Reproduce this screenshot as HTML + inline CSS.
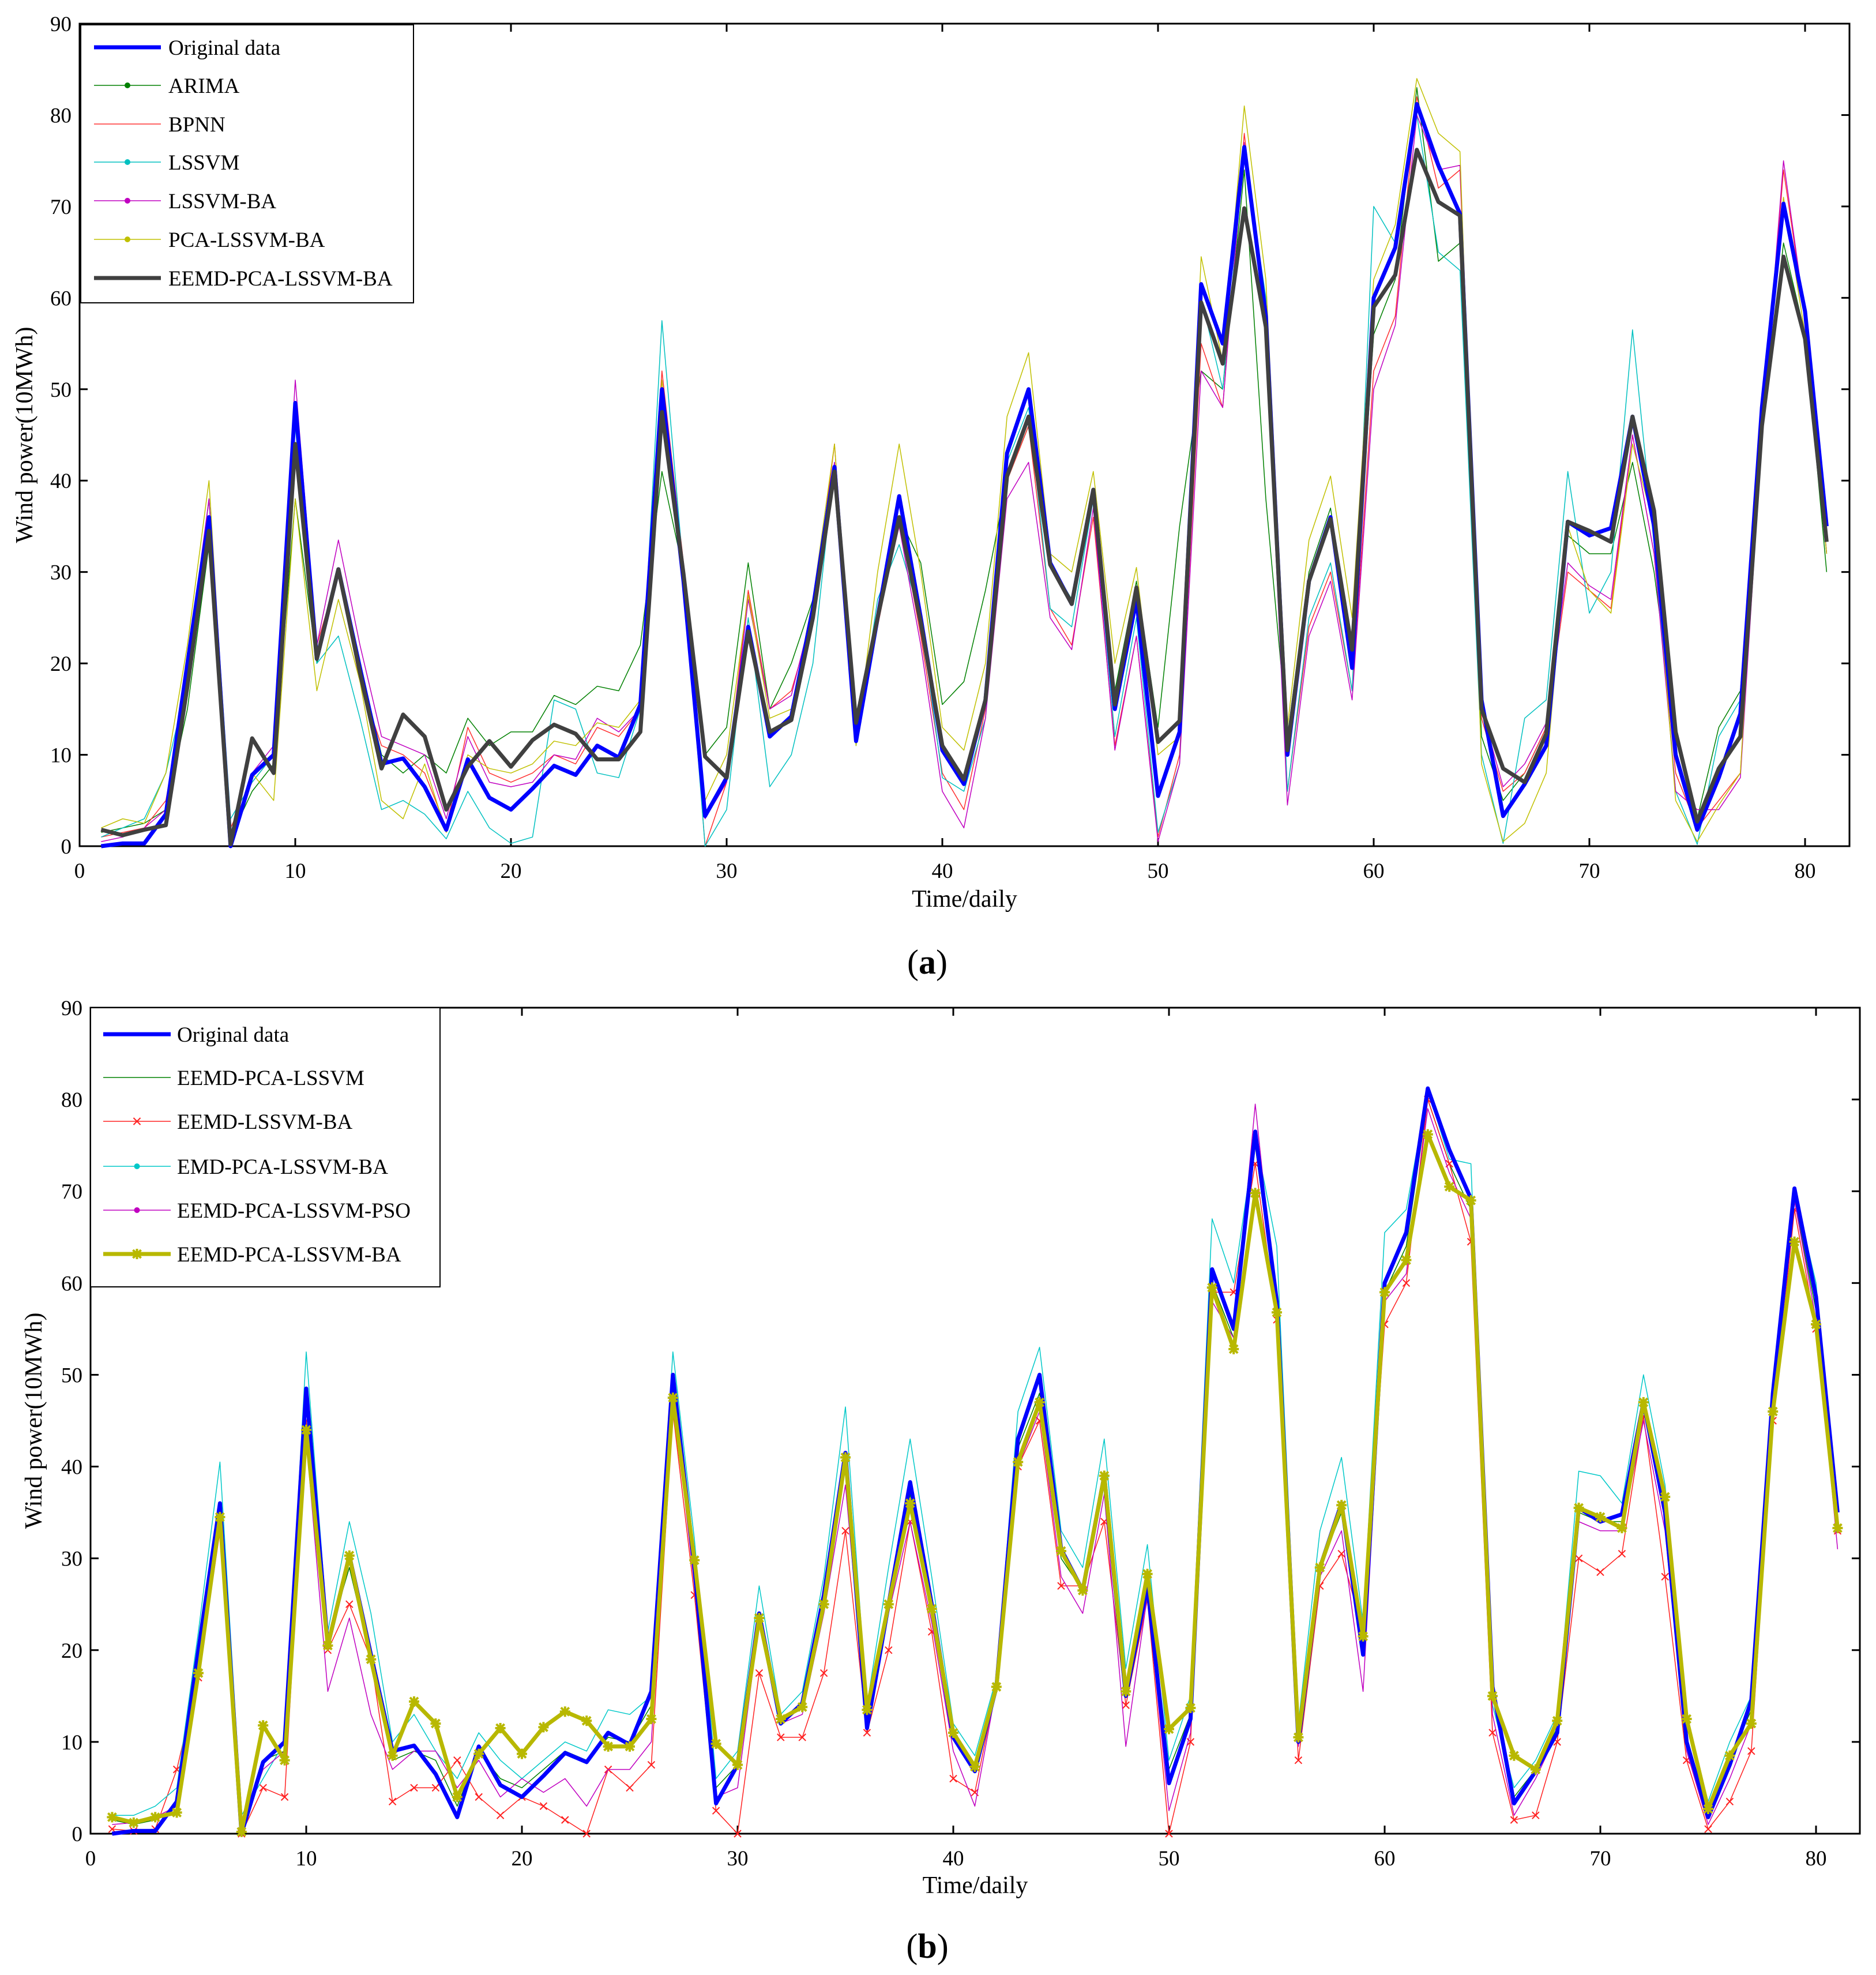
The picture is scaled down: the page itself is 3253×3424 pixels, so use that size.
<!DOCTYPE html>
<html><head><meta charset="utf-8">
<style>
html,body{margin:0;padding:0;background:#fff;}
svg{display:block;font-family:"Liberation Serif",serif;}
</style></head>
<body>
<svg id="chart" width="3253" height="3424" viewBox="0 0 3253 3424" xmlns="http://www.w3.org/2000/svg"></svg>
<script>
const days = Array.from({length:81},(_,i)=>i+1);
const xTicks = [0,10,20,30,40,50,60,70,80];
const yTicks = [0,10,20,30,40,50,60,70,80,90];

const original = [0,0.3,0.3,3.5,20,36,0,7.8,10,48.5,20.5,30.3,19.5,9,9.6,6.5,1.8,9.5,5.3,4,6.3,8.8,7.8,11,9.7,15.5,50,29,3.3,7.5,24,12,14.2,26,41.5,11.5,25,38.3,25,10.5,6.8,16,43,50,31,26.5,39,15,27,5.5,12.5,61.5,55,76.5,58,10,29,36,19.5,60,65.5,81.2,74.5,69.2,16,3.3,6.8,11,35.5,34,34.8,47,35,10,1.8,7.5,14.5,48,70.3,58.5,35];
const eemdPcaLssvmBa = [1.8,1.2,1.8,2.3,17.5,34.5,0.2,11.8,8,44,20.5,30.3,19,8.5,14.4,12,4,8.7,11.5,8.7,11.6,13.3,12.3,9.5,9.5,12.5,47.5,29.8,9.8,7.5,23.5,12.5,13.8,25,41,13.5,25,36,24.5,11,7.3,16,40.5,47,30.8,26.5,39,15.5,28.3,11.4,13.7,59.5,52.8,69.8,56.8,10.5,29,35.8,21.5,59,62.5,76.2,70.5,69,15,8.5,7,12.3,35.5,34.5,33.3,47,36.7,12.5,2.7,8.5,12,46,64.5,55.5,33.3];
const arima = [1.5,2,2.5,4,15,33,1,6,9,38,20,30,20,10,8,10,8,14,11,12.5,12.5,16.5,15.5,17.5,17,22,41,30,10,13,31,15,20,27,40,13,25,36,31,15.5,18,28,40,46,31,27,38,17,29,13,35,52,50,74,38,12,30,37,21,56,62,83,64,66,12,5,8,13,34,32,32,42,30,12,3,13,17,45,66,56,30];
const bpnn = [1,1.5,2,5,18,38,2,7,10,48,22,30,18,11,10,8,2,13,8,7,8,10,9,13,12,15,52,31,0,7,28,15,17,25,44,12,24,36,23,8,4,15,40,46,26,22,36,11,23,1,10,55,48,78,57,6,24,30,17,52,58,82,72,74,14,6,8,13,30,28,26,45,32,8,2,5,8,45,74,58,32];
const lssvm = [1,2,3,8,18,38,3,7,10,46,20,23,14,4,5,3.5,0.8,6,2,0.3,1,16,15,8,7.5,15,57.5,30,0,4,25,6.5,10,20,42,11,27,33,25,7.5,6,14,42,48,26,24,38,12,25,1.5,9,60,50,76,60,6,25,31,17,70,66,80,65,63,10,0.3,14,16,41,25.5,30,56.5,33,6,0.2,12,16,46,70,58,32];
const lssvmBa = [0.5,1,2,4,20,38,1,8,11,51,22,33.5,22,12,11,10,3,12,7,6.5,7,10,9.5,14,12.5,15,50,28,3,7,27,15,16.5,26,42,12,25,35,22,6,2,14,38,42,25,21.5,37,10.5,23,0.5,9,52,48,77,56,4.5,23,29,16,50,57,80,74,74.5,15,6.5,9,13.5,31,28.5,27,45,32,6,4,4,7.5,45,75,58,32];
const pcaLssvmBa = [2,3,2.5,8,22,40,1,8,5,38,17,27,18,5,3,9,1.5,10,8.5,8,9,11.5,11,13.5,13,16,51,30,5,10,27.5,14,15,27,44,11,30,44,30,13,10.5,20,47,54,32,30,41,20,30.5,10,12,64.5,53,81,62,13,33.5,40.5,25,62,68,84,78,76,9,0.5,2.5,8,35,28,25.5,44,35,5,0.5,4.5,8,48,71,56,32];
const eemdPcaLssvm = [1.5,1,1.5,3,18,35,0.5,8,9,45,21,29,19,8,9,8,3,9,6,5,7,9,8,10.5,10,14,49,29,5,7.5,23,12,14,25,40,12,25,37,24,10.5,7,16,42,48,30,26.5,38,15,27,7,13,60,54,75,57,10.5,29,35,20,59,64,80,73,68,15,4,7,11.5,35,34,34,46.5,35,10,2,8,13.5,47,69,57,34];
const eemdLssvmBa = [0.5,0.3,0.5,7,17,33,0,5,4,45,20,25,19,3.5,5,5,8,4,2,4,3,1.5,0,7,5,7.5,46,26,2.5,0,17.5,10.5,10.5,17.5,33,11,20,34,22,6,4.5,16,40,45,27,27,34,14,25.5,0,10,59,59,73,56,8,27,30.5,22,55.5,60,80,73,64.5,11,1.5,2,10,30,28.5,30.5,45.5,28,8,0.5,3.5,9,45,68,55,33];
const emdPcaLssvmBa = [2,2,3,5,22,40.5,2,6,10,52.5,22,34,24,10,13,9,6,11,8,6,8,10,9,13.5,13,15,52.5,32,6,9,27,13,15.5,28,46.5,14,29,43,28,12,8.5,17,46,53,33,29,43,18,31.5,8,15,67,60,76,64,12,33,41,23,65.5,68,81,73.5,73,14,5,8,13,39.5,39,36,50,38,12,3.5,10,15,48,70,60,34];
const eemdPcaLssvmPso = [1,1.2,1.8,3,18,34,0.5,7,9,43,15.5,23.5,13,7,9,9,5,8,4,6,4.5,6,3,7,7,10,48,27,4,5,23,12,13,24,38,12,24,34,23,9,3,16,40,46,28,24,37,9.5,26,2.5,11,58,54,79.5,57,9.5,28,33,15.5,58,61,79,72,67,13,2,6,11,34,33,33,45,33,9,1,6,12,46,69,56,31];

const NS="http://www.w3.org/2000/svg";
const svg=document.getElementById('chart');
function mk(tag,attrs,parent){const e=document.createElementNS(NS,tag);for(const k in attrs)e.setAttribute(k,attrs[k]);(parent||svg).appendChild(e);return e;}
function markerPath(m,cx,cy){
  if(m==='x') return `M${cx-6},${cy-6}L${cx+6},${cy+6}M${cx-6},${cy+6}L${cx+6},${cy-6}`;
  return `M${cx-9},${cy}L${cx+9},${cy}M${cx},${cy-9}L${cx},${cy+9}M${cx-7},${cy-7}L${cx+7},${cy+7}M${cx-7},${cy+7}L${cx+7},${cy-7}`;
}

function panel(P){
  const g=mk('g',{});
  
  
  const sx=v=>P.x0+(P.x80-P.x0)*v/80;
  const sy=v=>P.yb-(P.yb-P.yt)*v/90;
  const frame=mk('rect',{x:P.x0,y:P.yt,width:P.xr-P.x0,height:P.yb-P.yt,fill:'none',stroke:'#000','stroke-width':3},g);
  
  
  xTicks.forEach(t=>{
    mk('line',{x1:sx(t),x2:sx(t),y1:P.yb,y2:P.yb-14,stroke:'#000','stroke-width':3},g);
    mk('line',{x1:sx(t),x2:sx(t),y1:P.yt,y2:P.yt+14,stroke:'#000','stroke-width':3},g);
    const tx=mk('text',{x:sx(t),y:P.yb+55,'font-size':37,'text-anchor':'middle'},g);
    tx.textContent=t;
    
    
  });
  yTicks.forEach(t=>{
    mk('line',{x1:P.x0,x2:P.x0+14,y1:sy(t),y2:sy(t),stroke:'#000','stroke-width':3},g);
    mk('line',{x1:P.xr,x2:P.xr-14,y1:sy(t),y2:sy(t),stroke:'#000','stroke-width':3},g);
    const ty=mk('text',{x:P.x0-14,y:sy(t)+13,'font-size':37,'text-anchor':'end'},g);
    ty.textContent=t;
    
    
  });
  P.series.forEach(s=>{
    const pts=s.data.map((v,i)=>sx(days[i]).toFixed(1)+','+sy(v).toFixed(1)).join(' ');
    const pl=mk('polyline',{points:pts,fill:'none',stroke:s.color,'stroke-width':s.w,'stroke-linejoin':'round'},g);
    
    
    if(s.marker==='x'||s.marker==='star'){
      s.data.forEach((v,i)=>{
        mk('path',{d:markerPath(s.marker,sx(days[i]),sy(v)),stroke:s.color,'stroke-width':s.marker==='x'?2:4},g);
      });
    }
  });
  const xt=mk('text',{x:(P.x0+P.xr)/2,y:P.xtY,'font-size':42,'text-anchor':'middle'},g);
  xt.textContent='Time/daily';
  
  
  const yt=mk('text',{x:0,y:0,'font-size':42,'text-anchor':'middle',transform:`translate(${P.ytX},${(P.yt+P.yb)/2}) rotate(-90)`},g);
  yt.textContent='Wind power(10MWh)';
  
  
  const lg=mk('g',{},g);
  
  
  mk('rect',{x:P.lg.x,y:P.lg.y,width:P.lg.w,height:P.lg.h,fill:'#fff',stroke:'#000','stroke-width':2},lg);
  P.legendOrder.forEach((si,i)=>{
    const s=P.series[si];
    const y=P.lg.ys[i];
    mk('line',{x1:P.lg.lx1,x2:P.lg.lx2,y1:y,y2:y,stroke:s.color,'stroke-width':s.w},lg);
    const mx=(P.lg.lx1+P.lg.lx2)/2;
    if(s.marker==='dot') mk('circle',{cx:mx,cy:y,r:5,fill:s.color},lg);
    if(s.marker==='x'||s.marker==='star') mk('path',{d:markerPath(s.marker,mx,y),stroke:s.color,'stroke-width':s.marker==='x'?2:4},lg);
    const t=mk('text',{x:P.lg.tx,y:y+13,'font-size':37},lg);
    t.textContent=s.label;
    
    
  });
  const pl=mk('text',{x:1608,y:P.labY,'font-size':60,'text-anchor':'middle'},g);
  pl.innerHTML='(<tspan font-weight="bold">'+P.letter+'</tspan>)';
  
  
}

panel({name:'panel-a',letter:'a',x0:138,x80:3130,xr:3207,yt:41,yb:1467,xtY:1572,ytX:56,labY:1688,
  lg:{x:140,y:43,w:577,h:482,lx1:163,lx2:279,tx:292,ys:[82,148,215,281,348,415,482]},
  legendOrder:[5,0,1,2,3,4,6],
  series:[
    {key:'arima',label:'ARIMA',data:arima,color:'#008000',w:1.5,marker:'dot'},
    {key:'bpnn',label:'BPNN',data:bpnn,color:'#ff3030',w:1.5,marker:'none'},
    {key:'lssvm',label:'LSSVM',data:lssvm,color:'#00c0c0',w:1.5,marker:'dot'},
    {key:'lssvm-ba',label:'LSSVM-BA',data:lssvmBa,color:'#c000c0',w:1.5,marker:'dot'},
    {key:'pca-lssvm-ba',label:'PCA-LSSVM-BA',data:pcaLssvmBa,color:'#c0c000',w:1.5,marker:'dot'},
    {key:'original',label:'Original data',data:original,color:'#0000ff',w:7,marker:'none'},
    {key:'eemd-pca-lssvm-ba',label:'EEMD-PCA-LSSVM-BA',data:eemdPcaLssvmBa,color:'#404040',w:7,marker:'none'}
  ]});

panel({name:'panel-b',letter:'b',x0:157,x80:3149,xr:3225,yt:1747,yb:3179,xtY:3282,ytX:72,labY:3394,
  lg:{x:157,y:1747,w:606,h:484,lx1:179,lx2:296,tx:307,ys:[1793,1868,1944,2022,2098,2174]},
  legendOrder:[4,0,1,2,3,5],
  series:[
    {key:'eemd-pca-lssvm',label:'EEMD-PCA-LSSVM',data:eemdPcaLssvm,color:'#008000',w:1.5,marker:'none'},
    {key:'eemd-lssvm-ba',label:'EEMD-LSSVM-BA',data:eemdLssvmBa,color:'#ff2020',w:1.5,marker:'x'},
    {key:'emd-pca-lssvm-ba',label:'EMD-PCA-LSSVM-BA',data:emdPcaLssvmBa,color:'#00c8c8',w:1.5,marker:'dot'},
    {key:'eemd-pca-lssvm-pso',label:'EEMD-PCA-LSSVM-PSO',data:eemdPcaLssvmPso,color:'#c000c0',w:1.5,marker:'dot'},
    {key:'original',label:'Original data',data:original,color:'#0000ff',w:7,marker:'none'},
    {key:'eemd-pca-lssvm-ba',label:'EEMD-PCA-LSSVM-BA',data:eemdPcaLssvmBa,color:'#b8b800',w:7,marker:'star'}
  ]});
</script>
</body></html>
